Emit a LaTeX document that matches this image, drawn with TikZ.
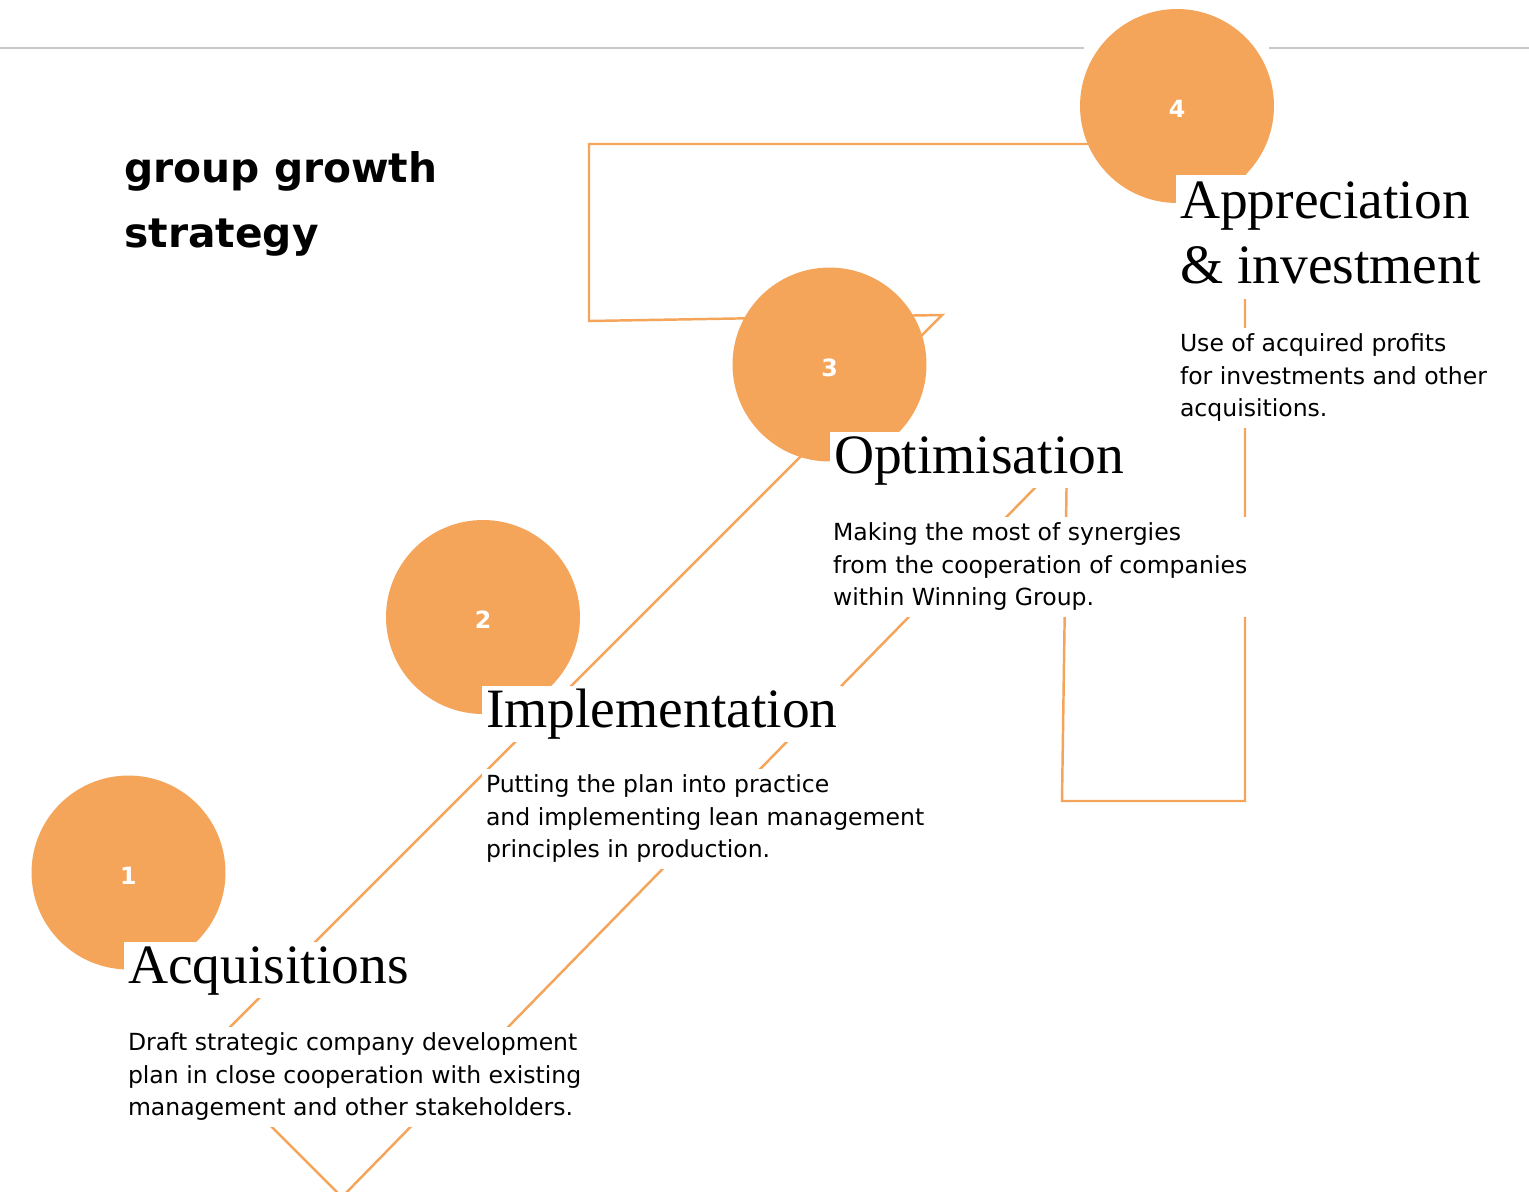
\documentclass[tikz,border=0pt]{standalone}
\usepackage{fontspec}
\setmainfont{Liberation Serif}
\newfontfamily\bodyfont{DejaVu Sans}
\usepackage{tikz}
\definecolor{stepOrange}{RGB}{245,165,90}
\definecolor{ruleGray}{RGB}{200,200,200}

\begin{document}
\begin{tikzpicture}[x=0.02cm, y=-0.02cm,
  trail/.style={draw=stepOrange, line width=1.4pt, line join=miter},
  stepdot/.style={circle, fill=stepOrange, minimum size=3.88cm, inner sep=0, outer sep=0, text=white, text height=0.47cm, text depth=0cm, font=\bodyfont\bfseries\fontsize{13.5}{15}\selectfont},
  steptitle/.style={anchor=north west, fill=white, inner xsep=0.08cm, inner ysep=0, outer sep=0, align=left, font=\fontsize{31.6}{37.4}\selectfont, text height=0.82cm, text depth=0.3cm},
  stepnote/.style={anchor=north west, fill=white, inner xsep=0.08cm, inner ysep=0, outer sep=0, align=left, font=\bodyfont\fontsize{13.4}{18.7}\selectfont, text height=1.78cm, text depth=0.22cm}]
 \useasboundingbox (0,0) rectangle (1529,1191);
 \fill[white] (0,0) rectangle (1529,1191);

 \draw[ruleGray, line width=0.8pt] (0,48) -- (1084,48);
 \draw[ruleGray, line width=0.8pt] (1269,48) -- (1529,48);

 \coordinate (A) at (1245,144);
 \coordinate (B) at (589,144);
 \coordinate (C) at (589,321);
 \coordinate (D) at (942,315);
 \coordinate (E) at (201,1056);
 \coordinate (F) at (342,1197);
 \coordinate (G) at (1067,455);
 \coordinate (H) at (1062,801);
 \coordinate (I) at (1245,801);
 \draw[trail] (A) -- (B) -- (C) -- (D) -- (E) -- (F) -- (G) -- (H) -- (I) -- cycle;

 \node [stepdot] (S1) at (128.5,872.5) {1};
 \node [stepdot] (S2) at (483,617) {2};
 \node [stepdot] (S3) at (829.5,364.5) {3};
 \node [stepdot] (S4) at (1177,106) {4};

 \node [steptitle] (T1) at (124,942) {Acquisitions};
 \node [steptitle] (T2) at (482,686) {Implementation};
 \node [steptitle] (T3) at (830,432) {Optimisation};
 \node [steptitle, text height=2.18cm] (T4) at (1176,175) {Appreciation\\\& investment};

 \node [stepnote] (N1) at (124,1027) {Draft strategic company development\\plan in close cooperation with existing\\management and other stakeholders.};
 \node [stepnote] (N2) at (482,769) {Putting the plan into practice\\and implementing lean management\\principles in production.};
 \node [stepnote] (N3) at (829,517) {Making the most of synergies\\from the cooperation of companies\\within Winning Group.};
 \node [stepnote] (N4) at (1176,328) {Use of acquired profits\\for investments and other\\acquisitions.};

 \node [anchor=north west, inner sep=0, align=left, text height=2.14cm, font=\bodyfont\bfseries\fontsize{23.2}{36.8}\selectfont] (head) at (124,140) {group growth\\strategy};
\end{tikzpicture}
\end{document}
